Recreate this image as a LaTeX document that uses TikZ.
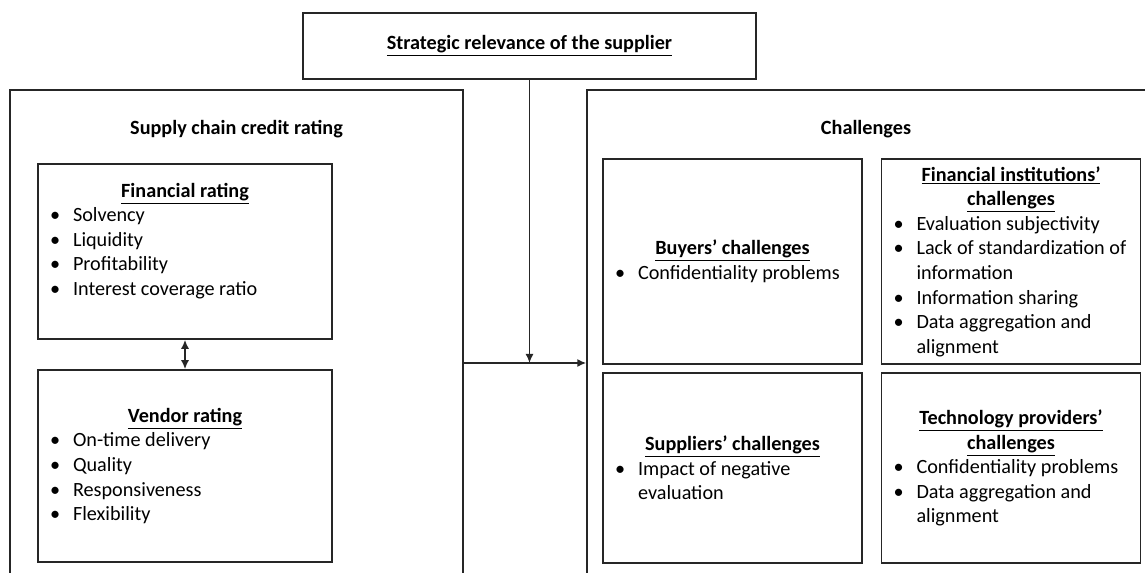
\documentclass[tikz,border=0pt]{standalone}
\usepackage{fontspec}
\setmainfont{Carlito}
\usetikzlibrary{arrows.meta}

\newcommand{\itm}[1]{\par\noindent\hangindent=0.46cm\hangafter=1\makebox[0.46cm][l]{\textbullet}#1\par}
\newcommand{\boxtitle}[1]{{\centering\bfseries#1\par}}

\begin{document}
\begin{tikzpicture}[%
      x=0.02cm, y=-0.02cm,
      frame/.style={draw=black!85, line width=0.9pt},
      outer/.style={frame, minimum width=#1, minimum height=10.6cm},
      panel/.style={frame, inner xsep=0.24cm, inner ysep=0pt,
        font=\fontsize{11.5}{14}\selectfont,
        execute at begin node={\begin{minipage}{#1}\raggedright},
        execute at end node={\end{minipage}}},
      lpanel/.style={panel=5.4cm, minimum width=5.88cm},
      rpanel/.style={panel=4.7cm, minimum width=5.18cm},
      head/.style={font=\fontsize{11.5}{14}\selectfont\bfseries},
      link/.style={frame, -{Latex[length=1.8mm,width=1.6mm]}},
      ]
      \useasboundingbox (0,0) rectangle (1145,573);
      \clip (0,0) rectangle (1145,573);

      % top box
      \node[frame, minimum width=9.06cm, minimum height=1.32cm,
        font=\fontsize{11.5}{14}\selectfont] (top) at (529.5,46)
        {\textbf{\underline{Strategic relevance of the supplier}}};

      % the two large frames
      \node[outer=9.06cm] (left) at (236.5,355) {};
      \node[outer=11.46cm] (right) at (873.5,355) {};
      \node[head] (lhead) at (236.5,129) {Supply chain credit rating};
      \node[head] (rhead) at (866,129) {Challenges};

      % left side
      \node[lpanel, minimum height=3.5cm] (fin) at (185,251.5) {%
        \boxtitle{\underline{Financial rating}}%
        \itm{Solvency}\itm{Liquidity}\itm{Profitability}%
        \itm{Interest coverage ratio}\mbox{}};
      \node[lpanel, minimum height=3.84cm] (vendor) at (185,466) {%
        \boxtitle{\underline{Vendor rating}}%
        \itm{On-time delivery}\itm{Quality}\itm{Responsiveness}%
        \itm{Flexibility}};

      % right side
      \node[rpanel, minimum height=4.1cm] (buyers) at (732.5,261.5) {%
        \boxtitle{\underline{Buyers' challenges}}%
        \itm{Confidentiality problems}};
      \node[rpanel, minimum height=4.1cm] (fininst) at (1011,261.5) {%
        \boxtitle{\underline{Financial institutions'}\\\underline{challenges}}%
        \itm{Evaluation subjectivity}%
        \itm{\mbox{Lack of standardization of}\newline information}%
        \itm{Information sharing}%
        \itm{Data aggregation and\newline alignment}};
      \node[rpanel, minimum height=3.8cm] (suppliers) at (732.5,468) {%
        \boxtitle{\underline{Suppliers' challenges}}%
        \itm{Impact of negative\newline evaluation}};
      \node[rpanel, minimum height=3.8cm] (tech) at (1011,468) {%
        \boxtitle{\underline{Technology providers'}\\\underline{challenges}}%
        \itm{Confidentiality problems}%
        \itm{Data aggregation and\newline alignment}};

      % connectors
      \coordinate (hub) at (529.5,363);
      \draw[link, {Latex[length=1.8mm,width=1.6mm]}-{Latex[length=1.8mm,width=1.6mm]}]
        (fin.south) -- (vendor.north);
      \draw[link] (top.south) -- (hub);
      \draw[link] (left.east |- hub) -- (right.west |- hub);
\end{tikzpicture}
\end{document}
